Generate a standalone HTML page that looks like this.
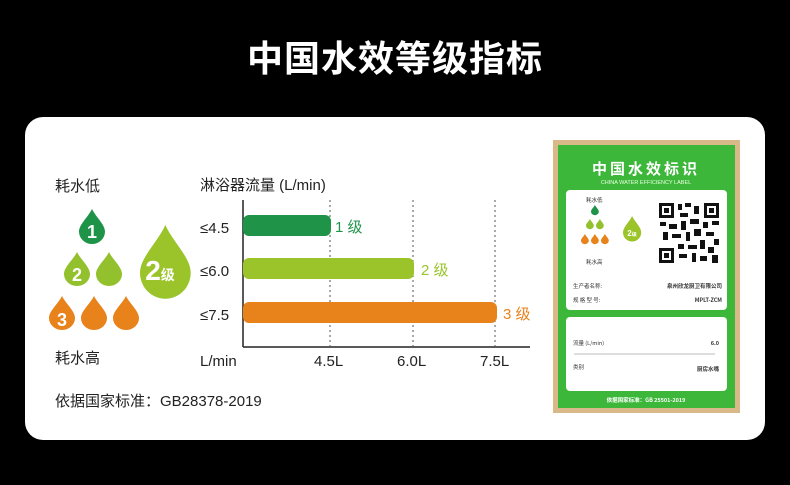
<!DOCTYPE html>
<html><head><meta charset="utf-8"><style>
body{margin:0;width:790px;height:485px;background:#000;font-family:"Liberation Sans","Noto Sans CJK SC",sans-serif;overflow:hidden;position:relative}
.t{position:absolute}
</style></head><body>
<div class="t" style="left:0;width:790px;top:30px;text-align:center;color:#fff;font-size:36px;font-weight:bold;letter-spacing:1px">中国水效等级指标</div>
<div class="t" style="left:25px;top:117px;width:740px;height:323px;background:#fff;border-radius:18px"></div>
<svg class="t" style="left:0;top:0" width="790" height="485">
<defs><path id="d" d="M13 0 C17 8 26 15 26 22 A13 12 0 0 1 0 22 C0 15 9 8 13 0Z"/></defs>
<use href="#d" transform="translate(79,209) scale(1,1.03)" fill="#1f9448"/>
<use href="#d" transform="translate(64,252)" fill="#93c12d"/>
<use href="#d" transform="translate(96,252)" fill="#93c12d"/>
<use href="#d" transform="translate(49,296)" fill="#e8821a"/>
<use href="#d" transform="translate(81,296)" fill="#e8821a"/>
<use href="#d" transform="translate(113,296)" fill="#e8821a"/>
<use href="#d" transform="translate(140,225) scale(1.95,2.17)" fill="#9ac42a"/>
<g fill="#fff" font-weight="bold" text-anchor="middle" font-family="Liberation Sans,sans-serif">
<text x="92" y="238" font-size="18">1</text>
<text x="77" y="281" font-size="18">2</text>
<text x="62" y="326" font-size="18">3</text>
<text x="160" y="280" font-size="28">2<tspan font-size="14" font-family="Noto Sans CJK SC">级</tspan></text>
</g>
<line x1="243" y1="200" x2="243" y2="347" stroke="#222" stroke-width="1.5"/>
<line x1="243" y1="347" x2="530" y2="347" stroke="#222" stroke-width="1.5"/>
<g stroke="#555" stroke-dasharray="2,3"><line x1="330" y1="200" x2="330" y2="347"/><line x1="413" y1="200" x2="413" y2="347"/><line x1="495" y1="200" x2="495" y2="347"/></g>
<rect x="243" y="215" width="88" height="21" rx="6" fill="#1f9448"/>
<rect x="243" y="258" width="171" height="21" rx="6" fill="#9ac42a"/>
<rect x="243" y="302" width="254" height="21" rx="6" fill="#e8821a"/>
<g font-size="15" fill="#222" font-family="Liberation Sans,Noto Sans CJK SC,sans-serif">
<text x="200" y="233">≤4.5</text><text x="200" y="276">≤6.0</text><text x="200" y="320">≤7.5</text>
<text x="200" y="366">L/min</text><text x="314" y="366">4.5L</text><text x="397" y="366">6.0L</text><text x="480" y="366">7.5L</text>
<text x="200" y="190">淋浴器流量 (L/min)</text>
<text x="55" y="191">耗水低</text><text x="55" y="363">耗水高</text>
<text x="55" y="406">依据国家标准：GB28378-2019</text>
<text x="335" y="232" fill="#1f9448">1 级</text>
<text x="421" y="275" fill="#9ac42a">2 级</text>
<text x="503" y="319" fill="#e8821a">3 级</text>
</g>
<!-- label -->
<rect x="553" y="140" width="187" height="273" fill="#d9b98a"/>
<rect x="558" y="145" width="177" height="263" fill="#3db73a"/>
<text x="646" y="174" text-anchor="middle" fill="#fff" font-size="15" font-weight="bold" font-family="Noto Sans CJK SC,sans-serif" letter-spacing="3">中国水效标识</text>
<text x="646" y="184" text-anchor="middle" fill="#e8ffe0" font-size="5.5" font-family="Liberation Sans,sans-serif">CHINA WATER EFFICIENCY LABEL</text>
<rect x="566" y="190" width="161" height="120" rx="4" fill="#fff"/>
<rect x="566" y="317" width="161" height="74" rx="4" fill="#fff"/>
<g fill="#111">
<rect x="658" y="202" width="62" height="62" fill="#fff"/>
<rect x="659" y="203" width="15" height="15"/><rect x="662" y="206" width="9" height="9" fill="#fff"/><rect x="664" y="208" width="5" height="5"/>
<rect x="704" y="203" width="15" height="15"/><rect x="707" y="206" width="9" height="9" fill="#fff"/><rect x="709" y="208" width="5" height="5"/>
<rect x="659" y="248" width="15" height="15"/><rect x="662" y="251" width="9" height="9" fill="#fff"/><rect x="664" y="253" width="5" height="5"/>
<rect x="678" y="204" width="4" height="6"/><rect x="685" y="203" width="6" height="4"/><rect x="694" y="206" width="5" height="8"/><rect x="680" y="213" width="8" height="4"/>
<rect x="660" y="222" width="6" height="4"/><rect x="669" y="224" width="8" height="5"/><rect x="681" y="221" width="5" height="9"/><rect x="690" y="219" width="9" height="5"/><rect x="703" y="222" width="5" height="6"/><rect x="712" y="221" width="7" height="4"/>
<rect x="663" y="232" width="5" height="8"/><rect x="672" y="234" width="9" height="4"/><rect x="686" y="232" width="4" height="9"/><rect x="694" y="229" width="7" height="7"/><rect x="706" y="232" width="8" height="4"/><rect x="714" y="239" width="5" height="6"/>
<rect x="678" y="244" width="6" height="5"/><rect x="688" y="245" width="9" height="4"/><rect x="700" y="240" width="5" height="9"/><rect x="708" y="247" width="6" height="6"/>
<rect x="679" y="254" width="8" height="4"/><rect x="692" y="253" width="4" height="9"/><rect x="700" y="256" width="7" height="5"/><rect x="712" y="255" width="6" height="8"/>
</g>
<use href="#d" transform="translate(591,205) scale(0.3,0.3)" fill="#1f9448"/>
<use href="#d" transform="translate(586,219) scale(0.3,0.3)" fill="#93c12d"/><use href="#d" transform="translate(596,219) scale(0.3,0.3)" fill="#93c12d"/>
<use href="#d" transform="translate(581,234) scale(0.3,0.3)" fill="#e8821a"/><use href="#d" transform="translate(591,234) scale(0.3,0.3)" fill="#e8821a"/><use href="#d" transform="translate(601,234) scale(0.3,0.3)" fill="#e8821a"/>
<use href="#d" transform="translate(623,216) scale(0.7,0.75)" fill="#9ac42a"/>
<text x="632" y="236" text-anchor="middle" fill="#fff" font-size="8" font-weight="bold" font-family="Liberation Sans,sans-serif">2<tspan font-size="5" font-family="Noto Sans CJK SC">级</tspan></text>
<g font-family="Noto Sans CJK SC,sans-serif" font-size="5.5" fill="#333">
<text x="586" y="202">耗水低</text><text x="586" y="264">耗水高</text>
<text x="573" y="288">生产者名称:</text><text x="573" y="302">规 格 型 号:</text>
<text x="722" y="288" text-anchor="end" font-weight="bold">泉州欣龙厨卫有限公司</text>
<text x="722" y="302" text-anchor="end" font-weight="bold">MPLT-ZCM</text>
<text x="573" y="345">流量 (L/min)</text><text x="719" y="345" text-anchor="end" font-weight="bold">6.0</text>
<text x="573" y="369">类别</text><text x="719" y="371" text-anchor="end" font-weight="bold">厨房水嘴</text>
<text x="646" y="402" text-anchor="middle" fill="#fff" font-weight="bold">依据国家标准：GB 25501-2019</text>
</g>
<line x1="574" y1="354" x2="715" y2="354" stroke="#bbb" stroke-width="1"/>
</svg>
</body></html>
